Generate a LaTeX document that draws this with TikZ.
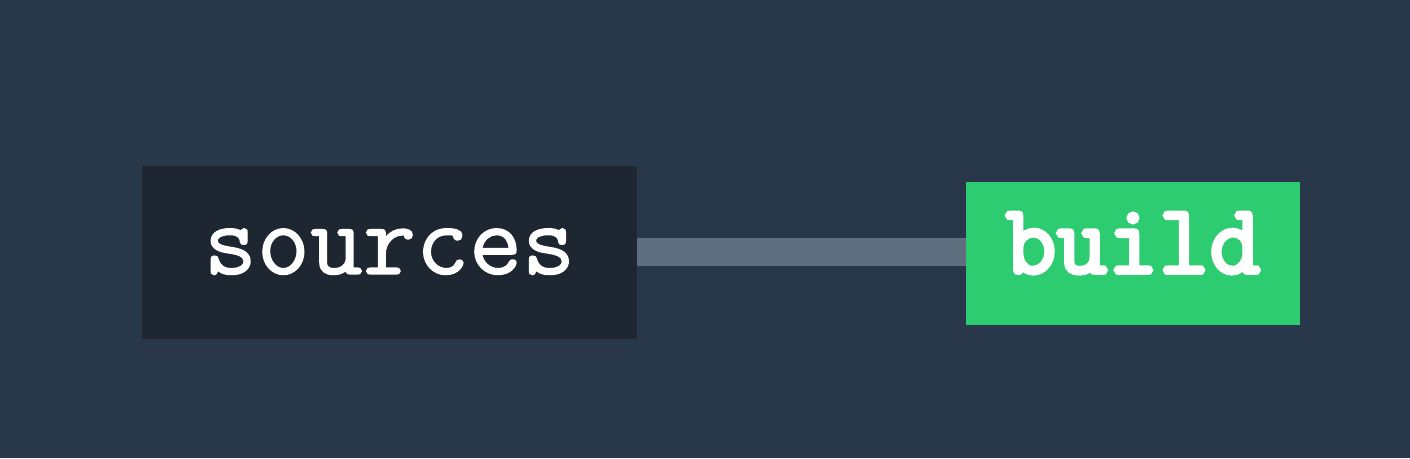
\documentclass[tikz,border=0pt]{standalone}
\usepackage{fontspec}
\newfontfamily\srcmono{Latin Modern Mono}[FakeBold=1.2]
\newfontfamily\bmono{Latin Modern Mono}[FakeBold=4]
\definecolor{bg}{HTML}{283749}
\definecolor{srcfill}{HTML}{1E2731}
\definecolor{linkc}{HTML}{5F6E7F}
\definecolor{green}{HTML}{2ECC71}
\begin{document}
\begin{tikzpicture}[x=1pt,y=1pt,
  box/.style={inner sep=0pt, outer sep=0pt, text=white, anchor=base},
  link/.style={draw=linkc, line width=28pt}]
\fill[bg] (0,0) rectangle (1410,458);
\useasboundingbox (0,0) rectangle (1410,458);
\node[box, fill=srcfill, minimum width=495pt, text height=108pt, text depth=65pt,
  font=\srcmono\fontsize{103}{103}\selectfont] (src) at (389.5,184) {sources};
\node[box, fill=green, minimum width=334pt, text height=91pt, text depth=52pt,
  font=\bmono\fontsize{99}{99}\selectfont] (build) at (1133,185) {build};
\draw[link] (src.east |- 0,206) -- (build.west |- 0,206);
\end{tikzpicture}
\end{document}
